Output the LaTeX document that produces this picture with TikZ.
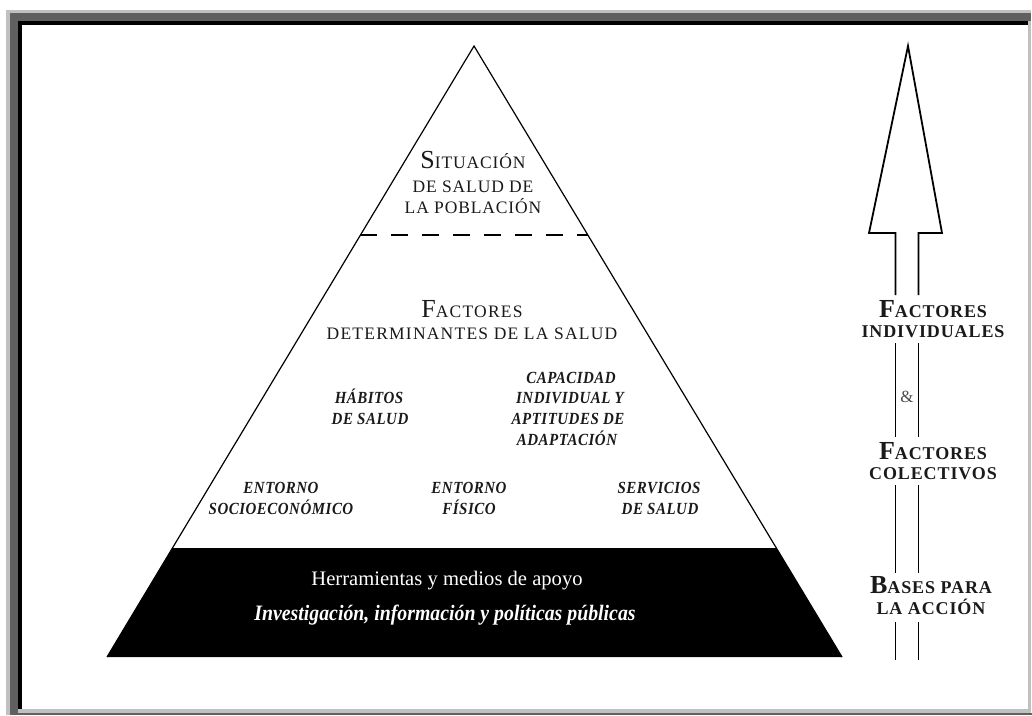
\documentclass[tikz,border=0pt]{standalone}
\usepackage{fontspec}
\setmainfont{Liberation Serif}
\newfontfamily\lsfam[LetterSpace=5]{Liberation Serif}
\newfontfamily\lsfamb[LetterSpace=7]{Liberation Serif}
\newfontfamily\itfam[LetterSpace=3,FakeStretch=0.88]{Liberation Serif}
\newfontfamily\cofam[FakeStretch=0.9]{Liberation Serif}
\newcommand\fs[1]{\fontsize{#1}{#1}\selectfont}
\newcommand\Ini[1]{{\fs{26}#1}}
\usetikzlibrary{calc}
\definecolor{lgray}{HTML}{C0C0C0}
\definecolor{dgray}{HTML}{606060}
\definecolor{ink}{HTML}{1A1A1A}
\tikzset{
  sc/.style={font=\lsfam\fs{17.5}, text=ink, anchor=base, inner sep=0pt},
  scf/.style={font=\lsfamb\fs{17.5}, text=ink, anchor=base, inner sep=0pt},
  itx/.style={font=\itfam\bfseries\itshape\fs{17}, text=ink, anchor=base, inner sep=0pt},
  scb/.style={font=\lsfam\bfseries\fs{18}, text=ink, anchor=base, inner sep=0pt},
  wtx/.style={font=\fs{20.6}, text=white, anchor=base, inner sep=0pt},
  wit/.style={font=\cofam\bfseries\itshape\fs{22}, text=white, anchor=base, inner sep=0pt},
  shaft/.style={line width=1.8pt},
}
\begin{document}
\begin{tikzpicture}[x=1pt,y=-1pt]
\useasboundingbox (0,0) rectangle (1032,715);
\fill[white] (0,0) rectangle (1032,715);
% frame
\fill[lgray] (6,10) rectangle (1031,13);
\fill[lgray] (6,10) rectangle (10,715);
\fill[dgray] (10,13) rectangle (1031,21);
\fill[dgray] (10,13) rectangle (18,715);
\fill[dgray] (10,713) rectangle (1032,715);
\fill[lgray] (18,709) rectangle (1031,713);
\fill[lgray] (1028,21) rectangle (1031,709);
\fill[black] (18,21) rectangle (1028,25);
\fill[black] (18,21) rectangle (22,709);
% pyramid
\coordinate (apex) at (474,46);
\coordinate (bl) at (107,657);
\coordinate (br) at (842,657);
\coordinate (tl) at ($(apex)!0.8216!(bl)$);
\coordinate (tr) at ($(apex)!0.8216!(br)$);
\coordinate (dl) at ($(apex)!0.3093!(bl)$);
\coordinate (dr) at ($(apex)!0.3093!(br)$);
\fill[black] (tl) -- (tr) -- (br) -- (bl) -- cycle;
\draw[line width=1.2pt, line join=miter] (bl) -- (apex) -- (br);
\draw[line width=1.2pt, dash pattern=on 17pt off 14pt] (dl) -- (dr);
% pyramid texts
\node[sc] (sit1) at (473,168) {\Ini{S}ITUACIÓN};
\node[sc] (sit2) at (473,192) {DE SALUD DE};
\node[sc] (sit3) at (473,213) {LA POBLACIÓN};
\node[scf] (fac1) at (472,317) {\Ini{F}ACTORES};
\node[scf] (fac2) at (472,339) {DETERMINANTES DE LA SALUD};
\node[itx] (hab1) at (369,403) {HÁBITOS};
\node[itx] (hab2) at (370,424) {DE SALUD};
\node[itx] (cap1) at (571,383) {CAPACIDAD};
\node[itx] (cap2) at (570,403) {INDIVIDUAL Y};
\node[itx] (cap3) at (568,424) {APTITUDES DE};
\node[itx] (cap4) at (567,445) {ADAPTACIÓN};
\node[itx] (ent1) at (281,493) {ENTORNO};
\node[itx] (ent2) at (281,514) {SOCIOECONÓMICO};
\node[itx] (fis1) at (469,493) {ENTORNO};
\node[itx] (fis2) at (469,514) {FÍSICO};
\node[itx] (ser1) at (659,493) {SERVICIOS};
\node[itx] (ser2) at (660,514) {DE SALUD};
\node[wtx] (her1) at (447,585) {Herramientas y medios de apoyo};
\node[wit] (her2) at (445,620) {Investigación, información y políticas públicas};
% right arrow
\coordinate (ah) at (908,46);
\coordinate (hl) at (869,233);
\coordinate (hr) at (942,233);
\draw[shaft, line join=miter] (895.5,295) -- (895.5,233) -- (hl) -- (ah) -- (hr) -- (918.5,233) -- (918.5,295);
\draw[shaft] (895.5,343) -- (895.5,437) (918.5,343) -- (918.5,437);
\draw[shaft] (895.5,485) -- (895.5,573) (918.5,485) -- (918.5,573);
\draw[shaft] (895.5,622) -- (895.5,660) (918.5,622) -- (918.5,660);
\node[scb] (ri1) at (933,317) {\Ini{F}ACTORES};
\node[scb] (ri2) at (933,337) {INDIVIDUALES};
\node[font=\fs{17}, anchor=base, inner sep=0pt, text=black!70] (amp) at (907,402) {\&};
\node[scb] (co1) at (933,459) {\Ini{F}ACTORES};
\node[scb] (co2) at (933,479) {COLECTIVOS};
\node[scb] (ba1) at (931,593) {\Ini{B}ASES PARA};
\node[scb] (ba2) at (931,614) {LA ACCIÓN};
\end{tikzpicture}
\end{document}
